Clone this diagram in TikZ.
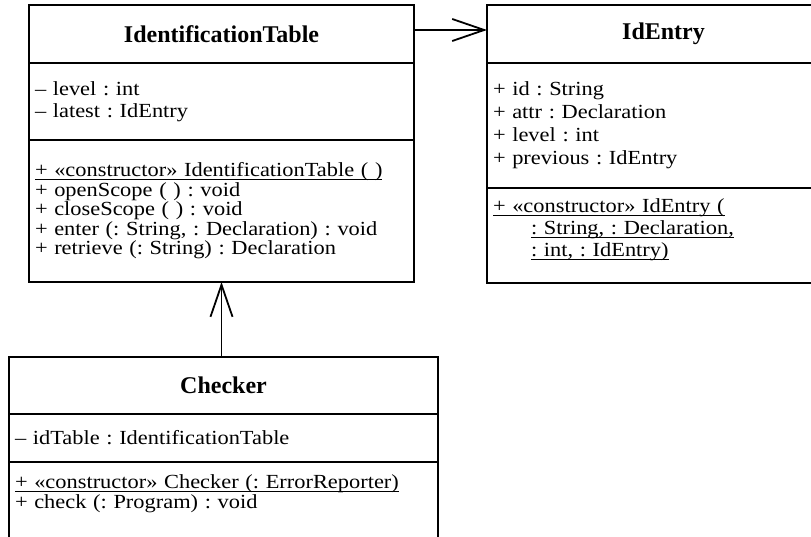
\documentclass[tikz,border=0pt]{standalone}
\usepackage{fontspec}
\setmainfont{Liberation Serif}
\newfontfamily\bodyfont{Liberation Serif}[FakeStretch=1.12]
\usetikzlibrary{positioning,arrows.meta}
\frenchspacing

% underline at a fixed depth, for class-scope members
\newcommand\ctorline[1]{\setbox0\hbox{#1}\rlap{\rule[-3pt]{\wd0}{0.9pt}}\box0}

\tikzset{
  classtitle/.style={draw, line width=1.8pt, outer sep=0pt, inner sep=0pt,
    minimum height=58pt, font=\bfseries\fontsize{24}{28}\selectfont},
  classpart/.style={draw, line width=1.8pt, outer sep=0pt, inner xsep=6pt,
    inner ysep=0pt, align=left},
  lines/.style={font=\bodyfont\fontsize{20}{#1}\selectfont},
  assoc/.style={line width=1.8pt,
    -{Straight Barb[length=32pt,width=22pt,line width=1.8pt]}},
}

\begin{document}
\begin{tikzpicture}[x=1pt,y=-1pt]
\path[use as bounding box,clip] (0,0) rectangle (811,537);

% IdentificationTable
\node[classtitle, minimum width=385pt, anchor=north west] (idtTitle) at (29,5) {IdentificationTable};
\node[classpart, lines=22, text width=373pt, minimum height=77pt, below=0pt of idtTitle] (idtAttrs)
  {– level : int\\– latest : IdEntry};
\node[classpart, lines=19.5, text width=373pt, minimum height=142pt, below=0pt of idtAttrs] (idtOps)
  {\ctorline{+ «constructor» IdentificationTable ( )}\\
   + openScope ( ) : void\\
   + closeScope ( ) : void\\
   + enter (: String, : Declaration) : void\\
   + retrieve (: String) : Declaration};

% IdEntry
\node[classtitle, minimum width=353pt, anchor=north west] (ieTitle) at (487,5) {IdEntry};
\node[classpart, lines=23, text width=341pt, minimum height=125pt, below=0pt of ieTitle] (ieAttrs)
  {+ id : String\\+ attr : Declaration\\+ level : int\\+ previous : IdEntry};
\node[classpart, lines=22, text width=341pt, minimum height=95pt, below=0pt of ieAttrs] (ieOps)
  {\ctorline{+ «constructor» IdEntry (}\\
   \hspace*{38pt}\ctorline{: String, : Declaration,}\\
   \hspace*{38pt}\ctorline{: int, : IdEntry)}\\[-6pt]\mbox{}};

% Checker
\node[classtitle, minimum width=429pt, minimum height=57pt, anchor=north west] (chkTitle) at (9,357) {Checker};
\node[classpart, lines=20, text width=417pt, minimum height=48pt, below=0pt of chkTitle] (chkAttrs)
  {– idTable : IdentificationTable};
\node[classpart, draw=none, lines=20, text width=417pt, minimum height=64pt, below=0pt of chkAttrs] (chkOps)
  {\ctorline{+ «constructor» Checker (: ErrorReporter)}\\
   + check (: Program) : void};
\draw[line width=1.8pt] (chkOps.north west) -- ++(0,100);
\draw[line width=1.8pt] (chkOps.north east) -- ++(0,100);

% associations
\draw[assoc] ([yshift=4pt]idtTitle.east) -- ([yshift=4pt]ieTitle.west);
\draw[assoc] (chkTitle.north -| idtOps.south) -- (idtOps.south);
\end{tikzpicture}
\end{document}
